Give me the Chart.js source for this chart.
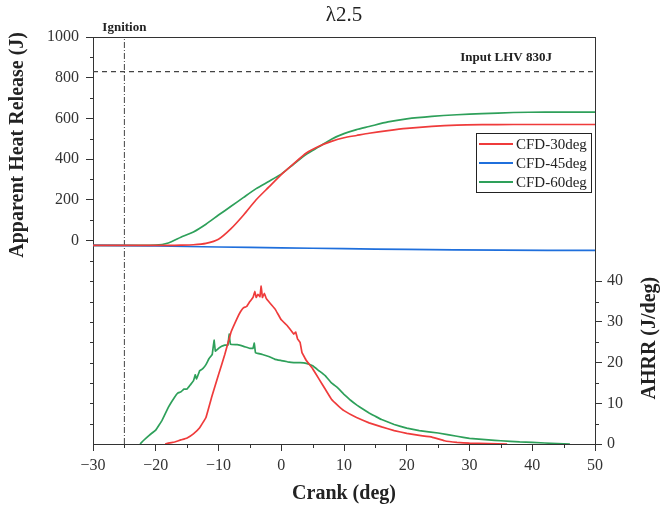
<!DOCTYPE html>
<html>
<head>
<meta charset="utf-8">
<title>λ2.5</title>
<script src="https://cdn.jsdelivr.net/npm/chart.js@4"></script>
<style>
  body { margin: 0; background: #fff; }
  #wrap { width: 662px; height: 514px; }
</style>
</head>
<body>
<div id="wrap"><canvas id="heatChart"></canvas></div>
<script>
// apparent heat release (J) - left axis
var hrCrank = [-30, -25, -20, -18, -16, -14, -12, -10, -8, -6, -4, -2, 0, 2, 4, 6, 8, 10, 12, 14, 17, 20, 24, 28, 32, 37, 42, 50];
var hr30 = [-24, -24, -24, -24, -23, -21, -14, 6, 58, 125, 200, 262, 324, 378, 430, 463, 487, 505, 516, 527, 540, 551, 561, 567, 569, 570, 570, 570];
var hr60 = [-24, -24, -23, -12, 16, 42, 80, 125, 168, 212, 255, 290, 326, 376, 424, 460, 498, 525, 545, 560, 583, 598, 610, 618, 623, 629, 631, 631];
var hr45Crank = [-30, -20, -10, 0, 10, 20, 35, 50];
var hr45 = [-24, -27, -32, -36, -40, -44, -47, -49];

// AHRR (J/deg) - right axis
var ahrr30Crank = [-18.5, -18, -17, -16, -15, -14, -13, -12, -11, -10, -9, -8, -7, -6.5, -6, -5.5, -5, -4.5, -4.2, -4, -3.7, -3.4, -3.2, -3, -2.7, -2.4, -2, -1, 0, 1, 2, 2.3, 2.6, 3, 3.3, 4, 5, 6, 7, 8, 9, 10, 12, 14, 16, 18, 20, 22, 24, 26, 28, 30, 36];
var ahrr30 = [0, 0.2, 0.5, 1, 1.5, 2.5, 4, 6.5, 12, 17, 22, 27.5, 31, 32.5, 33.5, 33.8, 35, 36, 37.5, 36, 36.8, 36.2, 38.8, 36, 37, 35.8, 35, 33.2, 30.5, 29, 27, 27.5, 25.8, 25, 22.5, 20.5, 18.5, 16, 13.5, 11, 9.5, 8.2, 6.5, 5.2, 4.2, 3.3, 2.6, 2.1, 1.7, 0.8, 0.4, 0.2, 0];
var ahrr60Crank = [-22.5, -22, -21, -20, -19, -18, -17, -16.5, -16, -15.5, -15, -14.5, -14, -13.7, -13.5, -13, -12.5, -12, -11.5, -11, -10.7, -10.5, -10, -9.5, -9, -8.5, -8.3, -8.1, -7, -6, -5, -4.5, -4.3, -4.1, -3, -2, -1, 0, 1, 2, 3, 4, 5, 6, 7, 8, 9, 10, 11, 12, 13, 14, 15, 16, 18, 20, 22, 25, 28, 30, 33, 35, 38, 40, 44, 46];
var ahrr60 = [0, 0.8, 2.2, 3.4, 5.8, 9, 11.5, 12.5, 12.8, 13.5, 13.5, 14.5, 15.5, 17, 16, 18, 18.5, 19.5, 21, 22, 25.5, 22.8, 23.5, 24, 24.3, 24.3, 27, 24.5, 24.4, 24, 23.5, 23.5, 24.8, 22.4, 22, 21.5, 20.8, 20.5, 20.2, 20, 20, 19.8, 19.2, 18, 16.8, 15, 13.8, 12.2, 10.8, 9.6, 8.6, 7.6, 6.8, 6, 4.8, 3.9, 3.3, 2.7, 1.9, 1.4, 1.0, 0.8, 0.5, 0.4, 0.1, 0];

var seriesNames = ["CFD-30deg", "CFD-45deg", "CFD-60deg"];
var seriesColors = ["#ef3b3b", "#1f6fdc", "#2ea05a"];

var ignitionCrank = -25;
var lhvInput = 830;

// axis ranges and tick spots
var crankRange = [-30, 50];
var hrRange = [-1000, 1000];
var ahrrRange = [0, 100];
var crankMinor = [-25, -15, -5, 5, 15, 25, 35, 45];
var hrMinor = [900, 700, 500, 300, 100, -100, -200, -300, -400, -500, -600, -700, -800, -900];
var ahrrMinor = [5, 15, 25, 35];
var ahrrLabelMax = 40;

var serif = "'Liberation Serif', 'Times New Roman', serif";
var ink = "#333";

function pairs(xs, ys) {
  return xs.map(function (x, i) { return { x: x, y: ys[i] }; });
}

function curve(label, color, data, axis, smooth) {
  return {
    label: label,
    data: data,
    yAxisID: axis,
    borderColor: color,
    borderWidth: 1.7,
    pointRadius: 0,
    tension: smooth,
    fill: false
  };
}

// frame, minor ticks, legend box and all the loose text
var decor = {
  id: "decor",
  afterDraw: function (chart) {
    var ctx = chart.ctx;
    var a = chart.chartArea;
    var sx = chart.scales.x, sy = chart.scales.y, s2 = chart.scales.y2;
    ctx.save();

    ctx.strokeStyle = ink;
    ctx.lineWidth = 1;
    ctx.beginPath();
    ctx.moveTo(a.left, Math.round(a.top) + 0.5);
    ctx.lineTo(a.right, Math.round(a.top) + 0.5);
    crankMinor.forEach(function (v) {
      var px = Math.round(sx.getPixelForValue(v)) + 0.5;
      ctx.moveTo(px, a.bottom);
      ctx.lineTo(px, a.bottom + 4);
    });
    hrMinor.forEach(function (v) {
      var py = Math.round(sy.getPixelForValue(v)) + 0.5;
      ctx.moveTo(a.left, py);
      ctx.lineTo(a.left - 3, py);
    });
    ahrrMinor.forEach(function (v) {
      var py = Math.round(s2.getPixelForValue(v)) + 0.5;
      ctx.moveTo(a.right, py);
      ctx.lineTo(a.right + 4, py);
    });
    ctx.stroke();

    ctx.fillStyle = "#222";
    ctx.textAlign = "center";
    ctx.textBaseline = "middle";
    ctx.font = "21px " + serif;
    ctx.fillText("λ2.5", (a.left + a.right) / 2, 15);

    ctx.font = "bold 20px " + serif;
    ctx.fillText("Crank (deg)", (a.left + a.right) / 2, 494);
    ctx.save();
    ctx.translate(18, sy.getPixelForValue(470));
    ctx.rotate(-Math.PI / 2);
    ctx.fillText("Apparent Heat Release (J)", 0, 0);
    ctx.restore();
    ctx.save();
    ctx.translate(650, s2.getPixelForValue(26));
    ctx.rotate(-Math.PI / 2);
    ctx.fillText("AHRR (J/deg)", 0, 0);
    ctx.restore();

    ctx.font = "bold 13px " + serif;
    ctx.textBaseline = "alphabetic";
    ctx.fillText("Ignition", sx.getPixelForValue(ignitionCrank), a.top - 6);
    ctx.textAlign = "right";
    ctx.fillText("Input LHV " + lhvInput + "J", a.right - 43, sy.getPixelForValue(lhvInput) - 11);

    // legend
    var bx = a.right - 119, by = a.top + 96, bw = 115, bh = 59;
    ctx.fillStyle = "#fff";
    ctx.fillRect(bx, by, bw, bh);
    ctx.strokeStyle = "#222";
    ctx.strokeRect(Math.round(bx) + 0.5, Math.round(by) + 0.5, bw, bh);
    ctx.font = "15px " + serif;
    ctx.textAlign = "left";
    ctx.textBaseline = "middle";
    seriesNames.forEach(function (name, i) {
      var ry = by + 11 + i * 19;
      ctx.strokeStyle = seriesColors[i];
      ctx.lineWidth = 2;
      ctx.beginPath();
      ctx.moveTo(bx + 3, ry);
      ctx.lineTo(bx + 37, ry);
      ctx.stroke();
      ctx.fillStyle = "#222";
      ctx.fillText(name, bx + 40, ry + 1);
    });
    ctx.restore();
  }
};

new Chart("heatChart", {
  type: "line",
  data: {
    datasets: [
      curve(seriesNames[0], seriesColors[0], pairs(hrCrank, hr30), "y", 0.2),
      curve(seriesNames[1], seriesColors[1], pairs(hr45Crank, hr45), "y", 0.2),
      curve(seriesNames[2], seriesColors[2], pairs(hrCrank, hr60), "y", 0.2),
      curve(seriesNames[0], seriesColors[0], pairs(ahrr30Crank, ahrr30), "y2", 0.05),
      curve(seriesNames[2], seriesColors[2], pairs(ahrr60Crank, ahrr60), "y2", 0.05),
      {
        label: "Ignition",
        data: [{ x: ignitionCrank, y: hrRange[0] }, { x: ignitionCrank, y: hrRange[1] }],
        yAxisID: "y",
        borderColor: "#444",
        borderWidth: 1,
        borderDash: [6, 2, 1, 2],
        pointRadius: 0
      },
      {
        label: "Input LHV",
        data: [{ x: crankRange[0], y: lhvInput }, { x: crankRange[1], y: lhvInput }],
        yAxisID: "y",
        borderColor: "#444",
        borderWidth: 1.2,
        borderDash: [5, 4],
        pointRadius: 0
      }
    ]
  },
  options: {
    responsive: true,
    maintainAspectRatio: false,
    animation: false,
    layout: { padding: { top: 37 } },
    plugins: {
      legend: { display: false },
      tooltip: { enabled: false }
    },
    scales: {
      x: {
        type: "linear",
        min: crankRange[0],
        max: crankRange[1],
        afterFit: function (s) { s.height = 70; },
        border: { color: ink, width: 1 },
        grid: { drawOnChartArea: false, tickLength: 7, tickColor: ink },
        ticks: {
          stepSize: 10,
          padding: 5,
          color: ink,
          font: { family: serif, size: 16 },
          maxRotation: 0,
          callback: function (v) { return v < 0 ? "\u2212" + Math.abs(v) : String(v); }
        }
      },
      y: {
        position: "left",
        min: hrRange[0],
        max: hrRange[1],
        afterFit: function (s) { s.width = 93; },
        border: { color: ink, width: 1 },
        grid: {
          drawOnChartArea: false,
          tickLength: 7,
          tickColor: function (c) { return c.tick && c.tick.value < 0 ? "rgba(0,0,0,0)" : ink; }
        },
        ticks: {
          stepSize: 200,
          padding: 7,
          color: ink,
          font: { family: serif, size: 16 },
          callback: function (v) { return v < 0 ? "" : String(v); }
        }
      },
      y2: {
        position: "right",
        min: ahrrRange[0],
        max: ahrrRange[1],
        afterFit: function (s) { s.width = 67; },
        border: { color: ink, width: 1 },
        grid: {
          drawOnChartArea: false,
          tickLength: 7,
          tickColor: function (c) { return c.tick && c.tick.value > ahrrLabelMax ? "rgba(0,0,0,0)" : ink; }
        },
        ticks: {
          stepSize: 10,
          padding: 5,
          color: ink,
          font: { family: serif, size: 16 },
          callback: function (v) { return v > ahrrLabelMax ? "" : String(v); }
        }
      }
    }
  },
  plugins: [decor]
});
</script>
</body>
</html>
